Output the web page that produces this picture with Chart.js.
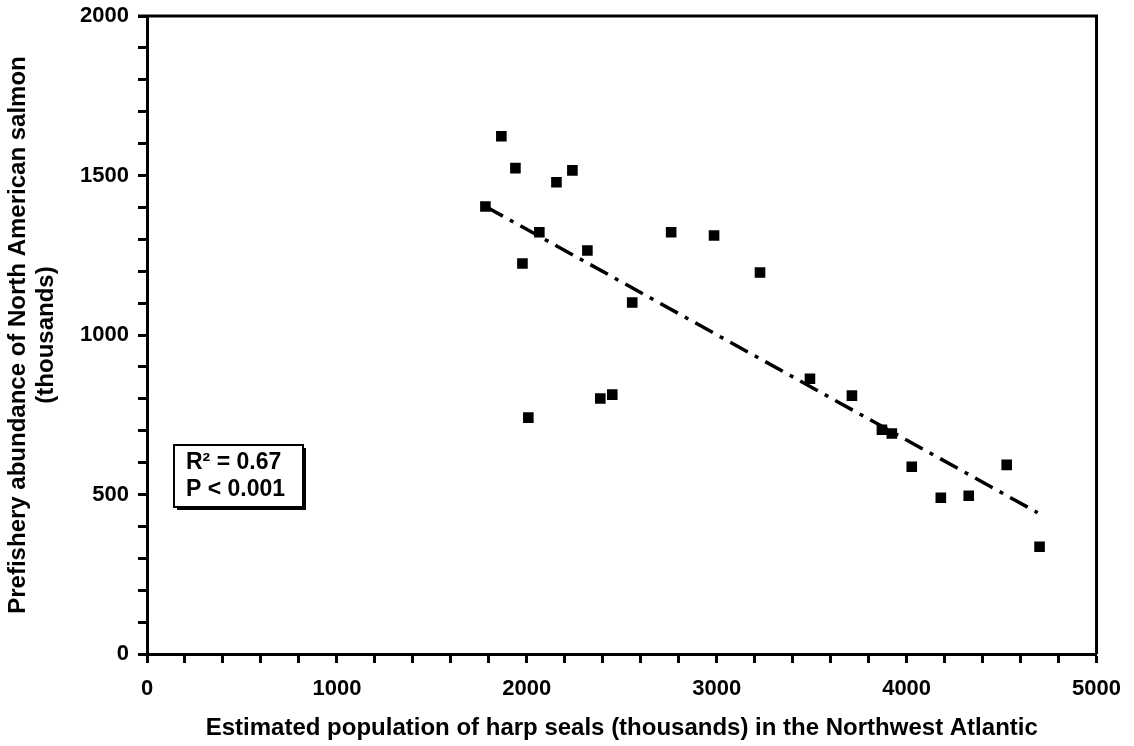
<!DOCTYPE html>
<html lang="en">
<head>
    <meta charset="UTF-8">
    <title>Harp seals vs salmon</title>
    <script src="https://cdn.jsdelivr.net/npm/chart.js"></script>
    <style>
        body { margin: 0; background: #fff; }
        #wrap { width: 1134px; height: 746px; position: relative; }
    </style>
</head>
<body>
    <div id="wrap">
        <canvas id="sealChart"></canvas>
    </div>

    <script>
        // harp seal population (thousands) and prefishery salmon abundance (thousands)
        const sealPop = [1782, 1866, 1940, 1977, 2008, 2066, 2156, 2240, 2319, 2387, 2450, 2555,
                         2760, 2986, 3228, 3491, 3712, 3870, 3922, 4027, 4180, 4327, 4527, 4700];
        const salmonAbund = [1403, 1623, 1523, 1224, 741, 1322, 1479, 1516, 1265, 801, 813, 1102,
                             1322, 1312, 1196, 863, 810, 703, 691, 587, 490, 496, 593, 336];

        // fitted regression line, end points
        const fitX = [1782, 4690];
        const fitY = [1403, 443];

        const statLines = ['R\u00b2 = 0.67', 'P < 0.001'];

        const xTitle = 'Estimated population of harp seals (thousands) in the Northwest Atlantic';
        const yTitle = ['Prefishery abundance of North American salmon', '(thousands)'];

        const FONT = '"Liberation Sans", Arial, sans-serif';

        const points = sealPop.map((x, i) => ({ x: x, y: salmonAbund[i] }));
        const fitLine = fitX.map((x, i) => ({ x: x, y: fitY[i] }));

        // top/right frame plus the stats box
        const framePlugin = {
            id: 'frame',
            afterDraw(chart) {
                const ctx = chart.ctx;
                const a = chart.chartArea;
                ctx.save();
                ctx.strokeStyle = '#000';
                ctx.lineWidth = 3;
                ctx.beginPath();
                ctx.moveTo(a.left - 9, a.top);
                ctx.lineTo(a.right, a.top);
                ctx.lineTo(a.right, a.bottom);
                ctx.stroke();

                // stats box with drop shadow
                const bx = 174, by = 445, bw = 129, bh = 62;
                ctx.fillStyle = '#000';
                ctx.fillRect(bx + 3, by + 3, bw, bh);
                ctx.fillStyle = '#fff';
                ctx.fillRect(bx, by, bw, bh);
                ctx.lineWidth = 2;
                ctx.strokeRect(bx, by, bw, bh);
                ctx.fillStyle = '#000';
                ctx.font = 'bold 23px ' + FONT;
                ctx.textBaseline = 'middle';
                ctx.textAlign = 'left';
                ctx.fillText(statLines[0], bx + 12, by + 18);
                ctx.fillText(statLines[1], bx + 12, by + 45);
                ctx.restore();
            }
        };

        const ctx = document.getElementById('sealChart').getContext('2d');
        const chart = new Chart(ctx, {
            type: 'scatter',
            data: {
                datasets: [
                    {
                        label: 'Salmon',
                        data: points,
                        pointStyle: 'rect',
                        pointRadius: 7.5,
                        pointHoverRadius: 7.5,
                        backgroundColor: '#000',
                        borderColor: '#000',
                        borderWidth: 0,
                        order: 1,
                    },
                    {
                        label: 'Fit',
                        data: fitLine,
                        showLine: true,
                        borderColor: '#000',
                        borderWidth: 3.5,
                        borderDash: [20, 8, 4, 8],
                        pointRadius: 0,
                        fill: false,
                        order: 2,
                    },
                ],
            },
            options: {
                responsive: true,
                maintainAspectRatio: false,
                animation: false,
                layout: { padding: { top: 16, right: 36, left: 4, bottom: 0 } },
                plugins: {
                    legend: { display: false },
                    tooltip: { enabled: false },
                },
                scales: {
                    x: {
                        type: 'linear',
                        min: 0,
                        max: 5000,
                        afterFit(scale) { scale.height = 92; },
                        border: { display: true, color: '#000', width: 3 },
                        grid: { drawOnChartArea: false, drawTicks: true, tickLength: 9, tickWidth: 3, tickColor: '#000' },
                        ticks: {
                            stepSize: 200,
                            autoSkip: false,
                            maxRotation: 0,
                            padding: 13,
                            color: '#000',
                            font: { family: FONT, size: 22, weight: 'bold' },
                            callback: (v) => (v % 1000 === 0 ? v : ''),
                        },
                        title: {
                            display: true,
                            text: xTitle,
                            color: '#000',
                            font: { family: FONT, size: 24, weight: 'bold' },
                            padding: { top: 0, bottom: 3 },
                        },
                    },
                    y: {
                        min: 0,
                        max: 2000,
                        afterFit(scale) {
                            scale.width = 143;
                            scale.paddingTop = 0;
                            scale.paddingBottom = 0;
                        },
                        border: { display: true, color: '#000', width: 3 },
                        grid: { drawOnChartArea: false, drawTicks: true, tickLength: 9, tickWidth: 3, tickColor: '#000' },
                        ticks: {
                            stepSize: 100,
                            autoSkip: false,
                            padding: 9,
                            color: '#000',
                            font: { family: FONT, size: 22, weight: 'bold' },
                            callback: (v) => (v % 500 === 0 ? v : ''),
                        },
                        title: {
                            display: true,
                            text: yTitle,
                            color: '#000',
                            font: { family: FONT, size: 24, weight: 'bold', lineHeight: 1.17 },
                            padding: { top: 0, bottom: 0 },
                        },
                    },
                },
            },
            plugins: [framePlugin],
        });
    </script>
</body>
</html>
